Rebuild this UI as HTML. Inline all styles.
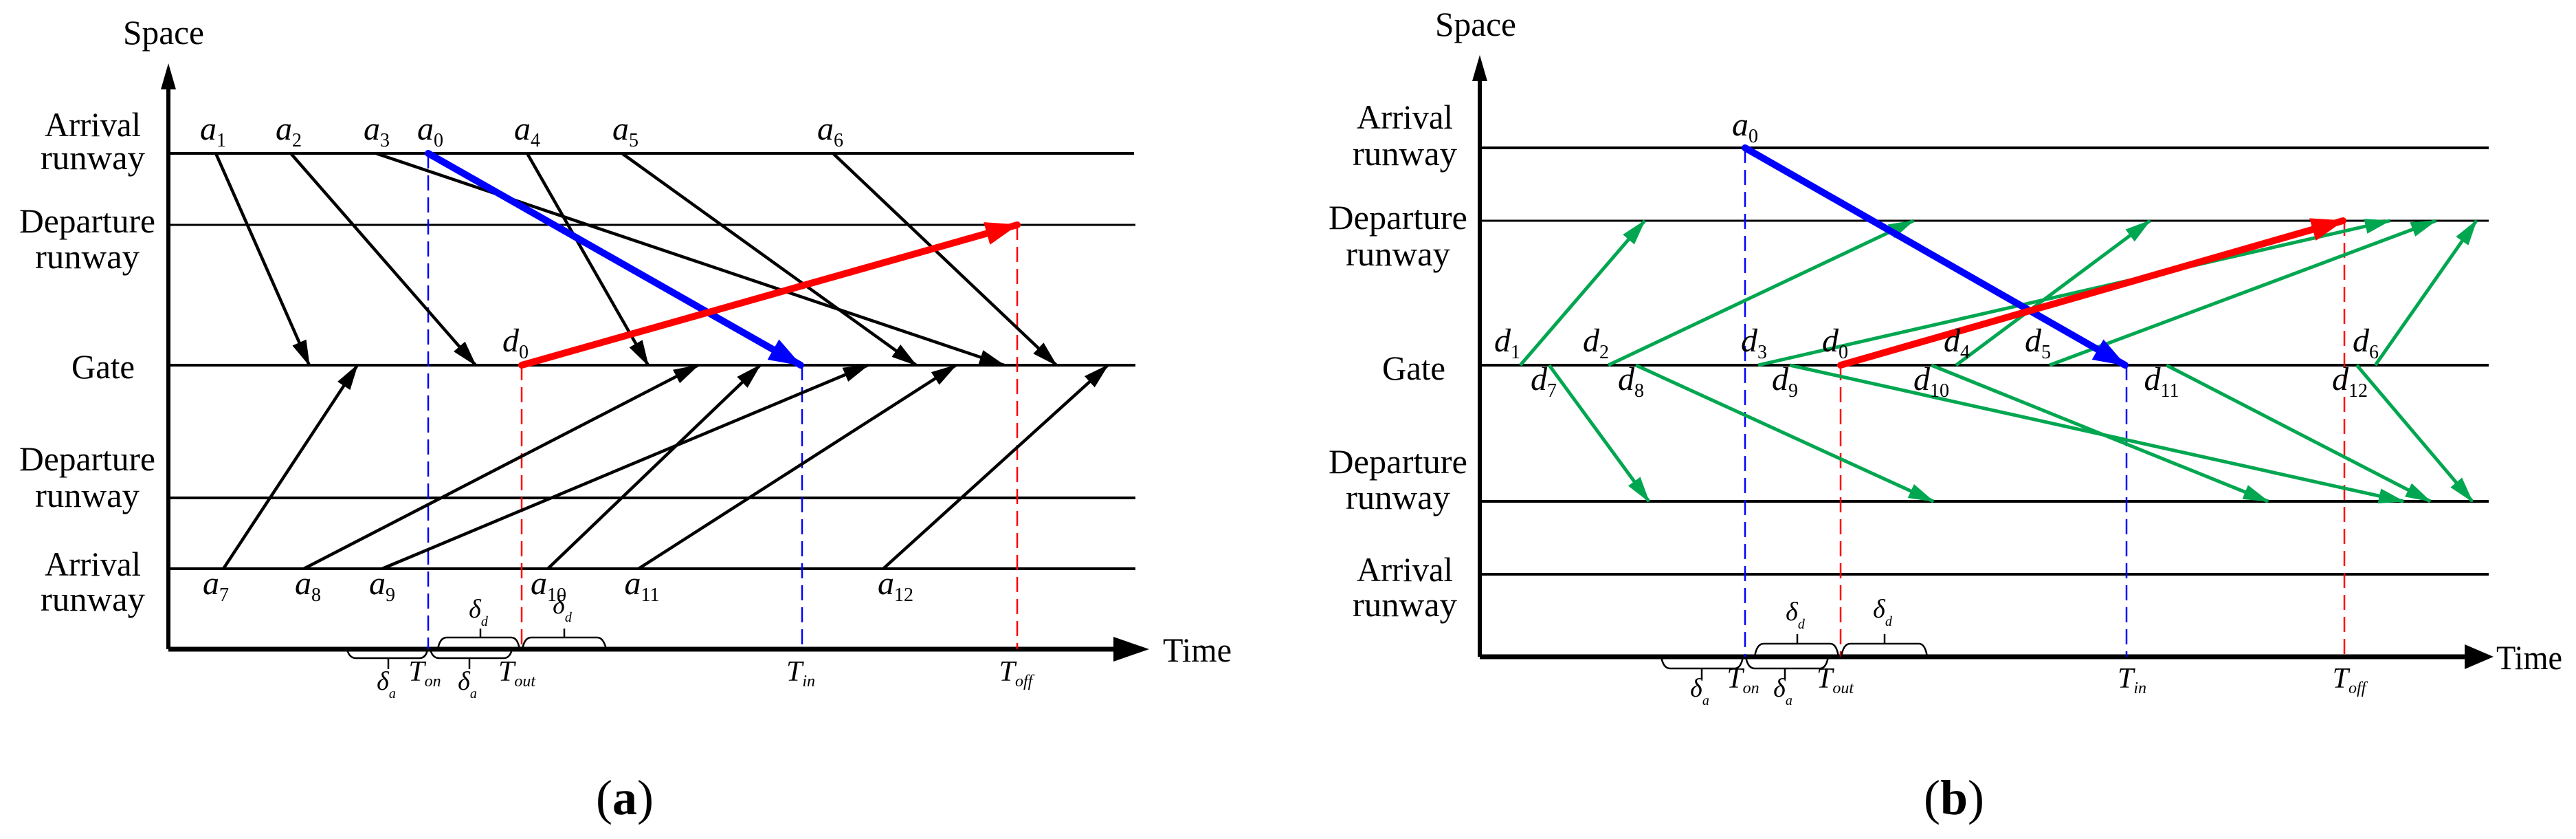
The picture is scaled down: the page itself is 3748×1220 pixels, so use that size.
<!DOCTYPE html>
<html><head><meta charset="utf-8"><style>
html,body{margin:0;padding:0;background:#fff;}
svg{display:block;}
text{font-family:"Liberation Serif",serif;fill:#000;}
.lab{font-size:50px;}
.it{font-style:italic;font-size:48px;}
.sb{font-size:28px;font-style:normal;}
.sbi{font-size:26px;font-style:italic;}
</style></head><body>
<svg width="3748" height="1220" viewBox="0 0 3748 1220" xmlns="http://www.w3.org/2000/svg">
<defs>
<marker id="k" markerUnits="userSpaceOnUse" markerWidth="40" markerHeight="24" refX="36" refY="11" orient="auto"><path d="M0,0 L38,11 L0,22 z" fill="#000"/></marker>
<marker id="g" markerUnits="userSpaceOnUse" markerWidth="40" markerHeight="24" refX="36" refY="11" orient="auto"><path d="M0,0 L38,11 L0,22 z" fill="#00a650"/></marker>
<marker id="b" markerUnits="userSpaceOnUse" markerWidth="50" markerHeight="36" refX="46" refY="17" orient="auto"><path d="M0,0 L48,17 L0,34 z" fill="#0000ff"/></marker>
<marker id="r" markerUnits="userSpaceOnUse" markerWidth="50" markerHeight="36" refX="46" refY="17" orient="auto"><path d="M0,0 L48,17 L0,34 z" fill="#ff0000"/></marker>
</defs>

<!-- ================= PANEL A ================= -->
<g stroke="#000" stroke-width="4" fill="none">
<line x1="245" y1="223" x2="1650" y2="223"/>
<line x1="245" y1="327" x2="1652" y2="327" stroke-width="3"/>
<line x1="245" y1="531" x2="1652" y2="531"/>
<line x1="245" y1="724" x2="1652" y2="724"/>
<line x1="245" y1="827" x2="1652" y2="827"/>
</g>
<line x1="245" y1="944" x2="245" y2="120" stroke="#000" stroke-width="6"/>
<path d="M234,130 L245,92 L256,130 z" fill="#000"/>
<line x1="245" y1="944" x2="1630" y2="944" stroke="#000" stroke-width="7"/>
<path d="M1620,926 L1672,944 L1620,962 z" fill="#000"/>
<text class="lab" x="238" y="64" text-anchor="middle" textLength="118" lengthAdjust="spacingAndGlyphs">Space</text>
<text class="lab" x="1692" y="962" textLength="100" lengthAdjust="spacingAndGlyphs">Time</text>
<g class="lab" text-anchor="middle">
<text x="135" y="198" textLength="140" lengthAdjust="spacingAndGlyphs">Arrival</text>
<text x="135" y="246" textLength="152" lengthAdjust="spacingAndGlyphs">runway</text>
<text x="127" y="338" textLength="198" lengthAdjust="spacingAndGlyphs">Departure</text>
<text x="127" y="390" textLength="152" lengthAdjust="spacingAndGlyphs">runway</text>
<text x="150" y="550" textLength="92" lengthAdjust="spacingAndGlyphs">Gate</text>
<text x="127" y="684" textLength="198" lengthAdjust="spacingAndGlyphs">Departure</text>
<text x="127" y="737" textLength="152" lengthAdjust="spacingAndGlyphs">runway</text>
<text x="135" y="837" textLength="140" lengthAdjust="spacingAndGlyphs">Arrival</text>
<text x="135" y="888" textLength="152" lengthAdjust="spacingAndGlyphs">runway</text>
</g>
<g stroke-width="2.5" stroke-dasharray="22,10" fill="none">
<line x1="623" y1="223" x2="623" y2="944" stroke="#0000ff"/>
<line x1="1167" y1="531" x2="1167" y2="944" stroke="#0000ff"/>
<line x1="759" y1="531" x2="759" y2="944" stroke="#ff0000"/>
<line x1="1480" y1="327" x2="1480" y2="944" stroke="#ff0000"/>
</g>
<g stroke="#000" stroke-width="4.5" marker-end="url(#k)">
<line x1="314" y1="223" x2="450" y2="531"/>
<line x1="423" y1="223" x2="692" y2="531"/>
<line x1="547" y1="223" x2="1461" y2="531"/>
<line x1="767" y1="223" x2="943" y2="531"/>
<line x1="905" y1="223" x2="1333" y2="531"/>
<line x1="1212" y1="223" x2="1537" y2="531"/>
<line x1="325" y1="827" x2="520" y2="531"/>
<line x1="442" y1="827" x2="1016" y2="531"/>
<line x1="556" y1="827" x2="1263" y2="531"/>
<line x1="797" y1="827" x2="1106" y2="531"/>
<line x1="929" y1="827" x2="1391" y2="531"/>
<line x1="1285" y1="827" x2="1612" y2="531"/>
</g>
<line x1="623" y1="223" x2="1165" y2="531" stroke="#0000ff" stroke-width="10" stroke-linecap="round" marker-end="url(#b)"/>
<line x1="759" y1="531" x2="1480" y2="327" stroke="#ff0000" stroke-width="10" stroke-linecap="round" marker-end="url(#r)"/>
<g class="it" text-anchor="middle">
<text x="310" y="203">a<tspan class="sb" dy="10">1</tspan></text>
<text x="420" y="203">a<tspan class="sb" dy="10">2</tspan></text>
<text x="548" y="203">a<tspan class="sb" dy="10">3</tspan></text>
<text x="626" y="203">a<tspan class="sb" dy="10">0</tspan></text>
<text x="767" y="203">a<tspan class="sb" dy="10">4</tspan></text>
<text x="910" y="203">a<tspan class="sb" dy="10">5</tspan></text>
<text x="1208" y="203">a<tspan class="sb" dy="10">6</tspan></text>
<text x="750" y="511">d<tspan class="sb" dy="10">0</tspan></text>
<text x="314" y="864">a<tspan class="sb" dy="10">7</tspan></text>
<text x="448" y="864">a<tspan class="sb" dy="10">8</tspan></text>
<text x="556" y="864">a<tspan class="sb" dy="10">9</tspan></text>
<text x="798" y="864">a<tspan class="sb" dy="10">10</tspan></text>
<text x="934" y="864">a<tspan class="sb" dy="10">11</tspan></text>
<text x="1303" y="864">a<tspan class="sb" dy="10">12</tspan></text>
</g>
<g stroke="#000" stroke-width="2.5" fill="none">
<path d="M505,944 Q508,957 518,957 L610,957 Q620,957 622,944"/><line x1="565" y1="957" x2="565" y2="973"/>
<path d="M626,944 Q629,957 639,957 L733,957 Q742,957 745,944"/><line x1="683" y1="957" x2="683" y2="973"/>
<path d="M637,944 Q640,927 650,927 L744,927 Q753,927 756,944"/><line x1="699" y1="927" x2="699" y2="914"/>
<path d="M760,944 Q763,927 773,927 L869,927 Q878,927 882,944"/><line x1="821" y1="927" x2="821" y2="914"/>
</g>
<g class="it" style="font-size:38px" text-anchor="middle">
<text x="562" y="1003">δ<tspan class="sbi" style="font-size:20px" dy="12">a</tspan></text>
<text x="680" y="1003">δ<tspan class="sbi" style="font-size:20px" dy="12">a</tspan></text>
<text x="696" y="898">δ<tspan class="sbi" style="font-size:20px" dy="12">d</tspan></text>
<text x="818" y="892">δ<tspan class="sbi" style="font-size:20px" dy="12">d</tspan></text>
</g>
<g class="it" style="font-size:42px" text-anchor="middle">
<text x="618" y="990">T<tspan class="sbi" style="font-size:24px" dy="8">on</tspan></text>
<text x="752" y="990">T<tspan class="sbi" style="font-size:24px" dy="8">out</tspan></text>
<text x="1165" y="990">T<tspan class="sbi" style="font-size:24px" dy="8">in</tspan></text>
<text x="1478" y="990">T<tspan class="sbi" style="font-size:24px" dy="8">off</tspan></text>
</g>
<text x="909" y="1184" text-anchor="middle" style="font-size:72px">(<tspan font-weight="bold">a</tspan>)</text>

<!-- ================= PANEL B ================= -->
<g stroke="#000" stroke-width="4" fill="none">
<line x1="2153" y1="215" x2="3621" y2="215"/>
<line x1="2153" y1="321" x2="3621" y2="321" stroke-width="3"/>
<line x1="2153" y1="531" x2="3621" y2="531"/>
<line x1="2153" y1="729" x2="3621" y2="729"/>
<line x1="2153" y1="835" x2="3621" y2="835"/>
</g>
<line x1="2153" y1="955" x2="2153" y2="110" stroke="#000" stroke-width="6"/>
<path d="M2142,118 L2153,80 L2164,118 z" fill="#000"/>
<line x1="2153" y1="955" x2="3600" y2="955" stroke="#000" stroke-width="7"/>
<path d="M3586,937 L3628,955 L3586,973 z" fill="#000"/>
<text class="lab" x="2147" y="52" text-anchor="middle" textLength="118" lengthAdjust="spacingAndGlyphs">Space</text>
<text class="lab" x="3632" y="973" textLength="96" lengthAdjust="spacingAndGlyphs">Time</text>
<g class="lab" text-anchor="middle">
<text x="2044" y="187" textLength="140" lengthAdjust="spacingAndGlyphs">Arrival</text>
<text x="2044" y="240" textLength="152" lengthAdjust="spacingAndGlyphs">runway</text>
<text x="2034" y="333" textLength="202" lengthAdjust="spacingAndGlyphs">Departure</text>
<text x="2034" y="386" textLength="152" lengthAdjust="spacingAndGlyphs">runway</text>
<text x="2057" y="552" textLength="92" lengthAdjust="spacingAndGlyphs">Gate</text>
<text x="2034" y="688" textLength="202" lengthAdjust="spacingAndGlyphs">Departure</text>
<text x="2034" y="740" textLength="152" lengthAdjust="spacingAndGlyphs">runway</text>
<text x="2044" y="845" textLength="140" lengthAdjust="spacingAndGlyphs">Arrival</text>
<text x="2044" y="896" textLength="152" lengthAdjust="spacingAndGlyphs">runway</text>
</g>
<g stroke-width="2.5" stroke-dasharray="22,10" fill="none">
<line x1="2539" y1="215" x2="2539" y2="955" stroke="#0000ff"/>
<line x1="3094" y1="531" x2="3094" y2="955" stroke="#0000ff"/>
<line x1="2678" y1="531" x2="2678" y2="955" stroke="#ff0000"/>
<line x1="3411" y1="321" x2="3411" y2="955" stroke="#ff0000"/>
</g>
<g stroke="#00a650" stroke-width="5" marker-end="url(#g)">
<line x1="2212" y1="531" x2="2393" y2="321"/>
<line x1="2340" y1="531" x2="2784" y2="321"/>
<line x1="2558" y1="531" x2="3477" y2="321"/>
<line x1="2846" y1="531" x2="3128" y2="321"/>
<line x1="2982" y1="531" x2="3544" y2="321"/>
<line x1="3456" y1="531" x2="3603" y2="321"/>
<line x1="2254" y1="531" x2="2399" y2="729"/>
<line x1="2380" y1="531" x2="2813" y2="729"/>
<line x1="2604" y1="531" x2="3497" y2="729"/>
<line x1="2810" y1="531" x2="3300" y2="729"/>
<line x1="3152" y1="531" x2="3536" y2="729"/>
<line x1="3429" y1="531" x2="3597" y2="729"/>
</g>
<line x1="2539" y1="215" x2="3092" y2="531" stroke="#0000ff" stroke-width="10" stroke-linecap="round" marker-end="url(#b)"/>
<line x1="2678" y1="531" x2="3409" y2="321" stroke="#ff0000" stroke-width="10" stroke-linecap="round" marker-end="url(#r)"/>
<g class="it" text-anchor="middle">
<text x="2539" y="197">a<tspan class="sb" dy="10">0</tspan></text>
<text x="2193" y="511">d<tspan class="sb" dy="10">1</tspan></text>
<text x="2322" y="511">d<tspan class="sb" dy="10">2</tspan></text>
<text x="2552" y="511">d<tspan class="sb" dy="10">3</tspan></text>
<text x="2670" y="511">d<tspan class="sb" dy="10">0</tspan></text>
<text x="2847" y="511">d<tspan class="sb" dy="10">4</tspan></text>
<text x="2965" y="511">d<tspan class="sb" dy="10">5</tspan></text>
<text x="3442" y="511">d<tspan class="sb" dy="10">6</tspan></text>
<text x="2246" y="567">d<tspan class="sb" dy="10">7</tspan></text>
<text x="2373" y="567">d<tspan class="sb" dy="10">8</tspan></text>
<text x="2597" y="567">d<tspan class="sb" dy="10">9</tspan></text>
<text x="2810" y="567">d<tspan class="sb" dy="10">10</tspan></text>
<text x="3145" y="567">d<tspan class="sb" dy="10">11</tspan></text>
<text x="3419" y="567">d<tspan class="sb" dy="10">12</tspan></text>
</g>
<g stroke="#000" stroke-width="2.5" fill="none">
<path d="M2417,955 Q2420,972 2430,972 L2524,972 Q2533,972 2536,955"/><line x1="2476" y1="972" x2="2476" y2="988"/>
<path d="M2540,955 Q2543,972 2553,972 L2648,972 Q2657,972 2660,955"/><line x1="2597" y1="972" x2="2597" y2="988"/>
<path d="M2553,955 Q2556,936 2566,936 L2663,936 Q2672,936 2675,955"/><line x1="2615" y1="936" x2="2615" y2="922"/>
<path d="M2679,955 Q2682,936 2692,936 L2792,936 Q2801,936 2804,955"/><line x1="2742" y1="936" x2="2742" y2="922"/>
</g>
<g class="it" style="font-size:38px" text-anchor="middle">
<text x="2473" y="1013">δ<tspan class="sbi" style="font-size:20px" dy="12">a</tspan></text>
<text x="2594" y="1013">δ<tspan class="sbi" style="font-size:20px" dy="12">a</tspan></text>
<text x="2612" y="902">δ<tspan class="sbi" style="font-size:20px" dy="12">d</tspan></text>
<text x="2739" y="898">δ<tspan class="sbi" style="font-size:20px" dy="12">d</tspan></text>
</g>
<g class="it" style="font-size:42px" text-anchor="middle">
<text x="2536" y="1000">T<tspan class="sbi" style="font-size:24px" dy="8">on</tspan></text>
<text x="2670" y="1000">T<tspan class="sbi" style="font-size:24px" dy="8">out</tspan></text>
<text x="3102" y="1000">T<tspan class="sbi" style="font-size:24px" dy="8">in</tspan></text>
<text x="3418" y="1000">T<tspan class="sbi" style="font-size:24px" dy="8">off</tspan></text>
</g>
<text x="2843" y="1184" text-anchor="middle" style="font-size:72px">(<tspan font-weight="bold">b</tspan>)</text>
</svg>
</body></html>
